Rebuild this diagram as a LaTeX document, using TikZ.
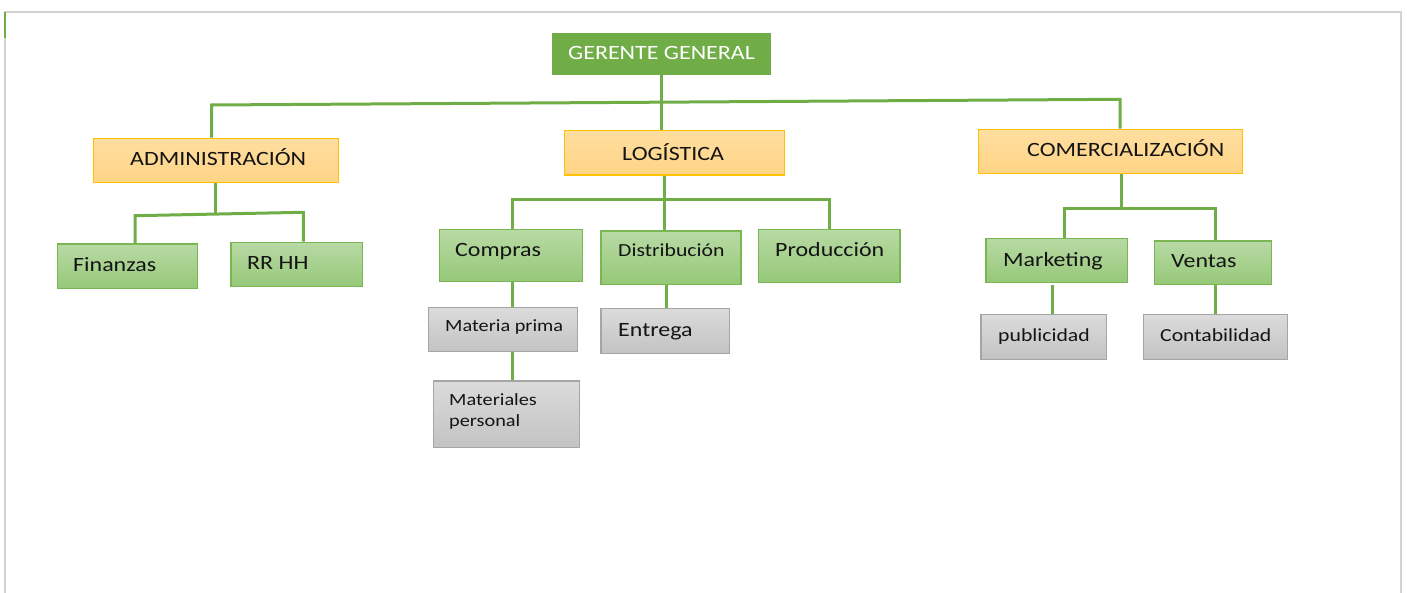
\documentclass[tikz,border=0pt]{standalone}
\usepackage{fontspec}
\setmainfont{Carlito}[FakeStretch=1.18]
\definecolor{gerg}{RGB}{112,173,71}
\definecolor{lineg}{RGB}{112,173,71}
\definecolor{orgtop}{RGB}{255,222,160}
\definecolor{orgbot}{RGB}{255,212,133}
\definecolor{orgborder}{RGB}{255,192,0}
\definecolor{grtop}{RGB}{184,218,165}
\definecolor{grbot}{RGB}{150,200,120}
\definecolor{grborder}{RGB}{122,183,82}
\definecolor{gytop}{RGB}{219,219,219}
\definecolor{gybot}{RGB}{195,195,195}
\definecolor{gyborder}{RGB}{165,165,165}
\definecolor{framec}{RGB}{210,210,210}
\definecolor{ink}{RGB}{20,20,20}

% box from corner (x1,y1) to corner (x2,y2)
\newcommand\orgbox[6]{%
  \node[#1, minimum width={#5-#3}, minimum height={#6-#4}] (#2)
    at ({(#3+#5)/2},{(#4+#6)/2}) {};}

\begin{document}
\begin{tikzpicture}[x=1pt,y=-1pt,
  conn/.style={draw=lineg, line width=3pt},
  boxbase/.style={rectangle, inner sep=0pt, line width=1.2pt},
  topbox/.style={boxbase, fill=gerg, draw=gerg},
  areabox/.style={boxbase, draw=orgborder, top color=orgtop, bottom color=orgbot},
  unitbox/.style={boxbase, draw=grborder, top color=grtop, bottom color=grbot},
  taskbox/.style={boxbase, draw=gyborder, top color=gytop, bottom color=gybot},
  lbl/.style={inner sep=0pt, anchor=base west, text=ink, font=\fontsize{20.3}{24}\selectfont},
  small/.style={lbl, font=\fontsize{18.4}{22}\selectfont},
]
\useasboundingbox (0,0) rectangle (1407,593);

% page frame
\draw[framec, line width=2pt] (5,593) -- (5,12) -- (1400.7,12) -- (1400.7,593);
\draw[lineg, line width=1.5pt] (5,12.5) -- (5,38);

% boxes
\orgbox{topbox}{ger}{552.7}{33.3}{770.7}{74.3}
\orgbox{areabox}{adm}{93.3}{138.3}{338.3}{182.3}
\orgbox{areabox}{log}{564.3}{130.7}{784.3}{175}
\orgbox{areabox}{com}{978.3}{129.3}{1242.7}{173.3}

\orgbox{unitbox}{fin}{57.7}{244}{197.7}{288.3}
\orgbox{unitbox}{rrhh}{231}{242.3}{362.7}{286.7}
\orgbox{unitbox}{cpr}{439.3}{229.3}{582.7}{281.3}
\orgbox{unitbox}{dis}{601}{231}{741}{284.3}
\orgbox{unitbox}{pro}{758.3}{229.3}{900}{282.3}
\orgbox{unitbox}{mkt}{986}{238.3}{1127.7}{282.7}
\orgbox{unitbox}{ven}{1154.3}{241}{1271.7}{284.3}

\orgbox{taskbox}{mp}{428.3}{307.3}{577.7}{351.7}
\orgbox{taskbox}{mat}{433.3}{381}{579.3}{447.7}
\orgbox{taskbox}{ent}{601}{308.3}{729.3}{353.3}
\orgbox{taskbox}{pub}{981}{314.3}{1106.7}{359.3}
\orgbox{taskbox}{cont}{1143.3}{314.3}{1287.7}{359.3}

% connectors: first level
\coordinate (jL) at (211.7,105);
\coordinate (jR) at (1120,99.3);
\draw[conn] (adm.north -| jL) -- (jL) -- (jR) -- (com.north -| jR);
\draw[conn] (ger.south) -- (ger.south |- log.north);

% connectors: administración
\coordinate (aM) at (215.7,214);
\coordinate (aL) at (135,215.7);
\coordinate (aR) at (303.3,212.3);
\draw[conn] (adm.south -| aM) -- (aM);
\draw[conn] (fin.north -| aL) -- (aL) -- (aR) -- (rrhh.north -| aR);

% connectors: logística
\coordinate (lM) at (664.5,200);
\coordinate (lL) at (512.7,200);
\coordinate (lR) at (829.3,200);
\draw[conn] (log.south -| lM) -- (dis.north -| lM);
\draw[conn] (cpr.north -| lL) -- (lL) -- (lR) -- (pro.north -| lR);
\draw[conn] (cpr.south -| lL) -- (mp.north -| lL);
\draw[conn] (mp.south -| lL) -- (mat.north -| lL);
\coordinate (dE) at (666,0);
\draw[conn] (dis.south -| dE) -- (ent.north -| dE);

% connectors: comercialización
\coordinate (cM) at (1121.7,208.3);
\coordinate (cL) at (1064.3,208.3);
\coordinate (cR) at (1215,208.3);
\draw[conn] (com.south -| cM) -- (cM);
\draw[conn] (mkt.north -| cL) -- (cL) -- (cR) -- (ven.north -| cR);
\coordinate (mP) at (1052.3,0);
\draw[conn] (mkt.south -| mP) ++(0,2) -- (pub.north -| mP);
\draw[conn] (ven.south -| cR) -- (cont.north -| cR);

% texts
\node[lbl, text=white] (t-ger) at (568,59.5) {GERENTE GENERAL};
\node[lbl] (t-adm) at (130,166) {ADMINISTRACIÓN};
\node[lbl] (t-log) at (622,161) {LOGÍSTICA};
\node[lbl] (t-com) at (1027,157) {COMERCIALIZACIÓN};

\node[lbl] (t-fin) at (73,272) {Finanzas};
\node[lbl] (t-rrhh) at (247,270) {RR HH};
\node[lbl] (t-cpr) at (455,257) {Compras};
\node[small] (t-dis) at (618,256.7) {Distribución};
\node[lbl] (t-pro) at (775,256.7) {Producción};
\node[lbl] (t-mkt) at (1003,266.7) {Marketing};
\node[lbl] (t-ven) at (1171,268) {Ventas};

\node[small, font=\fontsize{17.2}{21}\selectfont] (t-mp) at (445,331) {Materia prima};
\node[small, font=\fontsize{17.2}{21}\selectfont] (t-mat1) at (449,405.3) {Materiales};
\node[small, font=\fontsize{17.2}{21}\selectfont] (t-mat2) at (449,426.7) {personal};
\node[lbl] (t-ent) at (618,336.7) {Entrega};
\node[small] (t-pub) at (998,341.7) {publicidad};
\node[small] (t-cont) at (1160,341.7) {Contabilidad};
\end{tikzpicture}
\end{document}
